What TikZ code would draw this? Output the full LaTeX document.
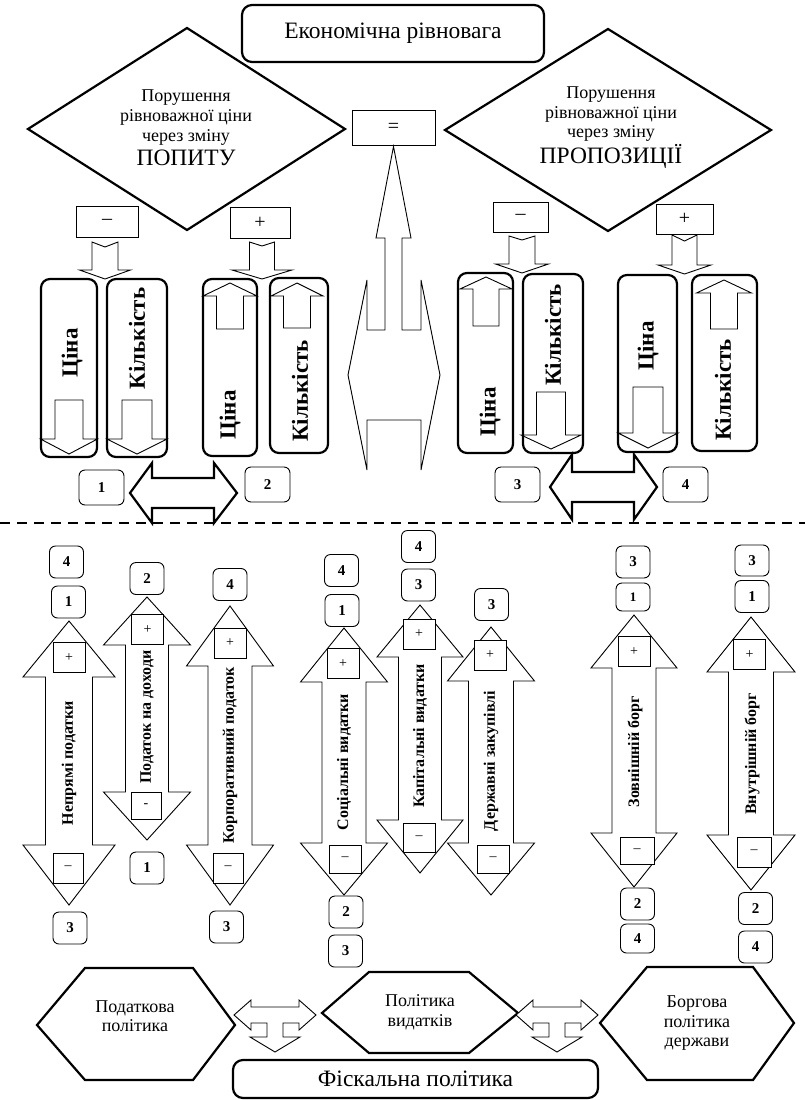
\documentclass[tikz,border=0pt]{standalone}
\usepackage{fontspec}
\setmainfont{Liberation Serif}

% Up-down block arrow: centre x, top tip, upper head base, lower head base, bottom tip, head half-width, shaft half-width
\newcommand{\UDArrow}[7]{%
  \draw[thinln, fill=white] (#1,#2) -- ({#1+#6},#3) -- ({#1+#7},#3) -- ({#1+#7},#4) -- ({#1+#6},#4) -- (#1,#5)
    -- ({#1-#6},#4) -- ({#1-#7},#4) -- ({#1-#7},#3) -- ({#1-#6},#3) -- cycle;}
% Single block arrow: centre x, shaft end, head base, tip, head half-width, shaft half-width
\newcommand{\BlockArrow}[6]{%
  \draw[thinln] ({#1-#6},#2) -- ({#1+#6},#2) -- ({#1+#6},#3) -- ({#1+#5},#3) -- (#1,#4)
    -- ({#1-#5},#3) -- ({#1-#6},#3) -- cycle;}
% Notched downward block arrow: centre x, shaft top, notch, head base, tip, head half-width, shaft half-width
\newcommand{\NotchArrow}[7]{%
  \draw[thinln, fill=white] ({#1-#7},#2) -- (#1,#3) -- ({#1+#7},#2) -- ({#1+#7},#4) -- ({#1+#6},#4) -- (#1,#5)
    -- ({#1-#6},#4) -- ({#1-#7},#4) -- cycle;}
% Left-right block arrow: left tip, left head base, right head base, right tip, centre y, head half-height, shaft half-height
\newcommand{\LRArrow}[7]{%
  \draw[thickln, fill=white] (#1,#5) -- (#2,{#5-#6}) -- (#2,{#5-#7}) -- (#3,{#5-#7}) -- (#3,{#5-#6}) -- (#4,#5)
    -- (#3,{#5+#6}) -- (#3,{#5+#7}) -- (#2,{#5+#7}) -- (#2,{#5+#6}) -- cycle;}
% Left-right-down block arrow centred at (x,y)
\newcommand{\TArrow}[2]{%
  \draw[thinln, fill=white] ({#1-41},#2) -- ({#1-24},{#2-15}) -- ({#1-24},{#2-8}) -- ({#1+24},{#2-8}) -- ({#1+24},{#2-15})
    -- ({#1+41},#2) -- ({#1+24},{#2+15}) -- ({#1+24},{#2+8}) -- ({#1+8},{#2+8}) -- ({#1+8},{#2+22})
    -- ({#1+25},{#2+22}) -- (#1,{#2+37}) -- ({#1-25},{#2+22}) -- ({#1-8},{#2+22}) -- ({#1-8},{#2+8})
    -- ({#1-24},{#2+8}) -- ({#1-24},{#2+15}) -- cycle;}

\begin{document}
\begin{tikzpicture}[x=1pt,y=-1pt,
  thickln/.style={line width=2.2pt, line join=miter},
  thinln/.style={line width=0.9pt, line join=miter},
  headbox/.style={draw, thickln, rounded corners=10pt, inner sep=0pt, font=\fontsize{23.5}{27}\selectfont},
  tallbox/.style={draw, thickln, rounded corners=9pt, inner sep=0pt},
  bigsign/.style={draw, thinln, inner sep=0pt, font=\fontsize{20}{22}\selectfont},
  signbox/.style={draw, thinln, fill=white, inner sep=0pt, minimum width=32pt, minimum height=30pt, font=\fontsize{14}{16}\selectfont},
  topnum/.style={draw, thinln, rounded corners=6pt, fill=white, inner sep=0pt, minimum width=45pt, minimum height=35pt, font=\bfseries\fontsize{15}{17}\selectfont},
  numbox/.style={draw, thinln, rounded corners=6pt, fill=white, inner sep=0pt, minimum width=34pt, minimum height=32pt, font=\bfseries\fontsize{15}{17}\selectfont},
  vlabel/.style={rotate=90, inner sep=0pt, font=\bfseries\fontsize{23}{25}\selectfont},
  slabel/.style={rotate=90, inner sep=0pt, font=\bfseries\fontsize{16}{18}\selectfont},
  dtext/.style={inner sep=0pt, font=\fontsize{18}{19.5}\selectfont},
  captext/.style={inner sep=0pt, font=\fontsize{23.5}{26}\selectfont},
]
\useasboundingbox (0,0) rectangle (805,1100);

% ---------- equilibrium block ----------
\node[headbox, minimum width=302pt, minimum height=57pt] (eq) at (393,33.5) {Економічна рівновага};

% demand and supply diamonds
\draw[thickln] (28,129) -- (187,28) -- (345,129) -- (187,230) -- cycle;
\draw[thickln] (445,130) -- (608,29) -- (771,130) -- (608,231) -- cycle;

\node[dtext] (dl1) at (186,98) {Порушення};
\node[dtext] (dl2) at (186,117.5) {рівноважної ціни};
\node[dtext] (dl3) at (186,137) {через зміну};
\node[captext] (dl4) at (186,158) {ПОПИТУ};

\node[dtext] (dr1) at (611,95) {Порушення};
\node[dtext] (dr2) at (611,114) {рівноважної ціни};
\node[dtext] (dr3) at (611,133.5) {через зміну};
\node[captext] (dr4) at (611,156) {ПРОПОЗИЦІЇ};

% equality box and the vertical arrow below it
\node[bigsign, minimum width=83pt, minimum height=35pt] (eqs) at (393.5,127.5) {=};
\draw[thinln] (367,280) -- (367,330) -- (385,330) -- (385,238) -- (376,238) -- (eqs.south |- 0,146.5)
  -- (411,238) -- (402,238) -- (402,330) -- (421,330) -- (421,280) -- (440,375) -- (421,470)
  -- (421,420) -- (367,420) -- (367,470) -- (348,375) -- cycle;

% sign boxes above the columns
\node[bigsign, minimum width=62pt, minimum height=31pt] (sL1) at (107,221.5) {–};
\node[bigsign, minimum width=60pt, minimum height=31pt] (sL2) at (260,222.5) {+};
\node[bigsign, minimum width=55pt, minimum height=30pt] (sR1) at (520.5,217) {–};
\node[bigsign, minimum width=57pt, minimum height=30pt] (sR2) at (684.5,219) {+};

\NotchArrow{105}{242}{247}{270}{279}{25.5}{13}
\NotchArrow{262}{242}{246}{270}{279}{30}{12.5}
\NotchArrow{522}{236}{240}{264}{273}{26.5}{13}
\NotchArrow{684.5}{235}{241}{265}{274}{26.5}{12.5}

% price and quantity columns
\node[tallbox, minimum width=56pt, minimum height=178pt] (bL1) at (69,368) {};
\node[tallbox, minimum width=60pt, minimum height=178pt] (bL2) at (137,368) {};
\node[tallbox, minimum width=54pt, minimum height=177pt] (bL3) at (230,367.5) {};
\node[tallbox, minimum width=58pt, minimum height=175pt] (bL4) at (299,365.5) {};
\node[tallbox, minimum width=55pt, minimum height=180pt] (bR1) at (485.5,363) {};
\node[tallbox, minimum width=60pt, minimum height=179pt] (bR2) at (553,363.5) {};
\node[tallbox, minimum width=59pt, minimum height=177pt] (bR3) at (647.5,363.5) {};
\node[tallbox, minimum width=65pt, minimum height=176pt] (bR4) at (724.5,363) {};

\BlockArrow{69}{400}{439}{454}{28.5}{14}
\BlockArrow{137}{400}{439}{454}{30}{15}
\BlockArrow{230}{329}{296}{283}{27}{13.5}
\BlockArrow{297}{328}{296}{283}{26}{13.5}
\BlockArrow{486}{326}{289}{277}{26}{13}
\BlockArrow{551}{392}{435}{449}{30}{14.5}
\BlockArrow{648}{387}{433}{448}{30}{15}
\BlockArrow{724}{329}{293}{280}{27.5}{13.5}

\node[vlabel] (tL1) at (72,353) {Ціна};
\node[vlabel] (tL2) at (137,338.5) {Кількість};
\node[vlabel] (tL3) at (230,415) {Ціна};
\node[vlabel] (tL4) at (300,391) {Кількість};
\node[vlabel] (tR1) at (490,412) {Ціна};
\node[vlabel] (tR2) at (553,335) {Кількість};
\node[vlabel] (tR3) at (648,346) {Ціна};
\node[vlabel] (tR4) at (723,390) {Кількість};

% case numbers and the linking arrows
\node[topnum] (n1) at (101.5,487.5) {1};
\node[topnum] (n2) at (267.5,484.5) {2};
\node[topnum] (n3) at (517.5,484.5) {3};
\node[topnum] (n4) at (685.5,484.5) {4};

\LRArrow{130}{152}{214}{237}{493}{30}{15}
\LRArrow{550}{572}{634}{657}{487}{32.5}{15}

% divider
\coordinate (divL) at (0,523);
\coordinate (divR) at (805,523);
\draw[line width=2.5pt, dash pattern=on 10pt off 7pt] (divL) -- (divR);

% ---------- fiscal instruments ----------
\UDArrow{69}{621}{677}{845}{905}{46}{23.5}
\UDArrow{147}{597}{645}{792}{840}{43.5}{21.5}
\UDArrow{230}{606}{666}{845}{905}{43.5}{22}
\UDArrow{344}{628}{682}{843}{895}{43.5}{22}
\UDArrow{420}{605}{657}{820}{873}{43}{21.5}
\UDArrow{491}{627}{681}{843}{895}{43.5}{22.5}
\UDArrow{634}{615}{668}{833}{887}{43}{22}
\UDArrow{751}{617}{672}{835}{890}{44}{22.5}

\node[slabel] (iA) at (69,763) {Непрямі податки};
\node[slabel] (iB) at (147,717) {Податок на доходи};
\node[slabel] (iC) at (230,755) {Корпоративний податок};
\node[slabel] (iD) at (344,762) {Соціальні видатки};
\node[slabel] (iE) at (420,736) {Капітальні видатки};
\node[slabel] (iF) at (491,761) {Державні закупівлі};
\node[slabel] (iG) at (635,752) {Зовнішній борг};
\node[slabel] (iH) at (752,754) {Внутрішній борг};

% plus / minus boxes inside the arrow heads
\node[signbox] (pA) at (69,657.5) {+};
\node[signbox] (pB) at (147.5,629.5) {+};
\node[signbox] (pC) at (230,643) {+};
\node[signbox] (pD) at (343,663.5) {+};
\node[signbox] (pE) at (419,634) {+};
\node[signbox] (pF) at (490,655) {+};
\node[signbox] (pG) at (634,651.5) {+};
\node[signbox] (pH) at (749.5,654.5) {+};

\node[signbox, minimum width=30pt] (mA) at (68,868) {–};
\node[signbox, minimum width=30pt, minimum height=27pt] (mB) at (146,806) {-};
\node[signbox, minimum width=30pt] (mC) at (228,868) {–};
\node[signbox, minimum height=28pt] (mD) at (345,859) {–};
\node[signbox, minimum height=29pt] (mE) at (419,837.5) {–};
\node[signbox, minimum height=28pt] (mF) at (493,859) {–};
\node[signbox, minimum width=34pt, minimum height=27pt] (mG) at (637,850.5) {–};
\node[signbox, minimum width=34pt, minimum height=30pt] (mH) at (754,852) {–};

% case numbers of each instrument
\node[numbox] (A4) at (66.5,562) {4};
\node[numbox] (A1) at (68.5,602) {1};
\node[numbox] (A3) at (70,928) {3};
\node[numbox] (B2) at (147,578.5) {2};
\node[numbox] (B1) at (147,868) {1};
\node[numbox] (C4) at (230,584.5) {4};
\node[numbox] (C3) at (226.5,927) {3};
\node[numbox] (D4) at (341.5,570.5) {4};
\node[numbox] (D1) at (342,610.5) {1};
\node[numbox] (D2) at (346,912) {2};
\node[numbox] (D3) at (345.5,951) {3};
\node[numbox] (E4) at (418.5,546.5) {4};
\node[numbox] (E3) at (418.5,585) {3};
\node[numbox] (F3) at (491.5,604.5) {3};
\node[numbox] (G3) at (633,562) {3};
\node[numbox, minimum height=28pt, font=\bfseries\fontsize{13}{15}\selectfont] (G1) at (633,597) {1};
\node[numbox] (G2) at (637.5,904) {2};
\node[numbox, minimum height=29pt] (G4) at (637.5,938.5) {4};
\node[numbox, minimum height=31pt] (H3) at (752,560.5) {3};
\node[numbox] (H1) at (752,596.5) {1};
\node[numbox] (H2) at (755.5,908.5) {2};
\node[numbox] (H4) at (755.5,947) {4};

% ---------- fiscal policy branches ----------
\draw[thickln] (85,968) -- (193,968) -- (235,1025) -- (193,1080) -- (85,1080) -- (37,1025) -- cycle;
\draw[thickln] (369,972) -- (469,972) -- (518,1013) -- (469,1053) -- (369,1053) -- (322,1013) -- cycle;
\draw[thickln] (647,967) -- (753,967) -- (794,1023) -- (753,1080) -- (647,1080) -- (600,1023) -- cycle;

\node[dtext, align=center] (hx1) at (135,1016) {Податкова\\політика};
\node[dtext, align=center] (hx2) at (420,1012.5) {Політика\\видатків};
\node[dtext, align=center] (hx3) at (697,1023.5) {Боргова\\політика\\держави};

\TArrow{275}{1015}
\TArrow{557}{1015}

\node[headbox, minimum width=365pt, minimum height=38pt] (fisc) at (415.5,1079) {Фіскальна політика};

\end{tikzpicture}
\end{document}
